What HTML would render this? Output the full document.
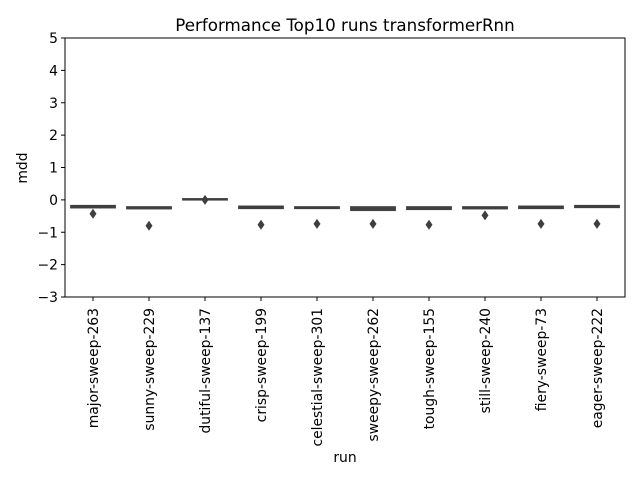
<!DOCTYPE html>
<html><head><meta charset="utf-8"><style>
body{margin:0;background:#fff}
svg{display:block;font-family:"DejaVu Sans","Liberation Sans",sans-serif}
</style></head><body>
<svg id="chart" width="640" height="480">
<rect x="0" y="0" width="640" height="480" fill="#fff"/>
<text x="345" y="31" font-size="16.7" text-anchor="middle">Performance Top10 runs transformerRnn</text>
<g id="yaxis"></g>
<g id="xaxis"></g>
<g id="boxes"></g>
<rect x="65" y="38" width="560" height="259" fill="none" stroke="#000" stroke-width="1"/>
<text x="27" y="168" font-size="13.9" text-anchor="middle" transform="rotate(-90 27 168)">mdd</text>
<text x="345" y="462" font-size="13.9" text-anchor="middle">run</text>
</svg>
<script>
const categories=["major-sweep-263","sunny-sweep-229","dutiful-sweep-137","crisp-sweep-199","celestial-sweep-301","sweepy-sweep-262","tough-sweep-155","still-sweep-240","fiery-sweep-73","eager-sweep-222"];
const q1=[-0.25,-0.28,0.0,-0.27,-0.27,-0.33,-0.3,-0.28,-0.27,-0.24];
const q3=[-0.17,-0.21,0.04,-0.19,-0.21,-0.21,-0.21,-0.21,-0.19,-0.17];
const medians=[-0.2,-0.24,0.02,-0.22,-0.24,-0.27,-0.25,-0.24,-0.22,-0.2];
const outliers=[-0.43,-0.8,0.0,-0.77,-0.74,-0.74,-0.77,-0.48,-0.74,-0.74];
const yTicks=[-3,-2,-1,0,1,2,3,4,5];
const yTickLabels=["\u22123","\u22122","\u22121","0","1","2","3","4","5"];
const NS="http://www.w3.org/2000/svg";
const X0=65,W=560,Y0=38,H=259,YMIN=-3,YMAX=5;
function y(v){return Y0+(YMAX-v)/(YMAX-YMIN)*H;}
function xc(i){return X0+(i+0.5)*W/categories.length;}
function mk(tag,attrs,parent){const e=document.createElementNS(NS,tag);for(const k in attrs)e.setAttribute(k,attrs[k]);parent.appendChild(e);return e;}
const ya=document.getElementById('yaxis'),xa=document.getElementById('xaxis'),bx=document.getElementById('boxes');
yTicks.forEach((t,i)=>{
 const l=mk('line',{x1:X0-4,x2:X0,y1:y(t),y2:y(t),stroke:'#000'},ya);
 
 
 const tx=mk('text',{x:X0-7,y:y(t)+5,'font-size':13.9,'text-anchor':'end'},ya);
 tx.textContent=yTickLabels[i];
 
 
});
const bw=0.8*W/categories.length;
categories.forEach((c,i)=>{
 const x=xc(i);
 const l=mk('line',{x1:x,x2:x,y1:Y0+H,y2:Y0+H+4,stroke:'#000'},xa);
 
 
 const tx=mk('text',{x:x+5,y:Y0+H+11,'font-size':13.9,'text-anchor':'end',transform:`rotate(-90 ${x+5} ${Y0+H+11})`},xa);
 tx.textContent=c;
 
 
 const top=y(q3[i]),bot=y(q1[i]);
 const r=mk('rect',{x:x-bw/2,y:top,width:bw,height:Math.max(bot-top,1.5),fill:'#444',stroke:'#3f3f3f','stroke-width':1},bx);
 
 
 const m=mk('line',{x1:x-bw/2,x2:x+bw/2,y1:y(medians[i]),y2:y(medians[i]),stroke:'#3f3f3f','stroke-width':1.5},bx);
 
 
 const oy=y(outliers[i]);
 const d=mk('path',{d:`M${x} ${oy-5}L${x+3.5} ${oy}L${x} ${oy+5}L${x-3.5} ${oy}Z`,fill:'#3f3f3f'},bx);
 
 
});
</script>
</body></html>
